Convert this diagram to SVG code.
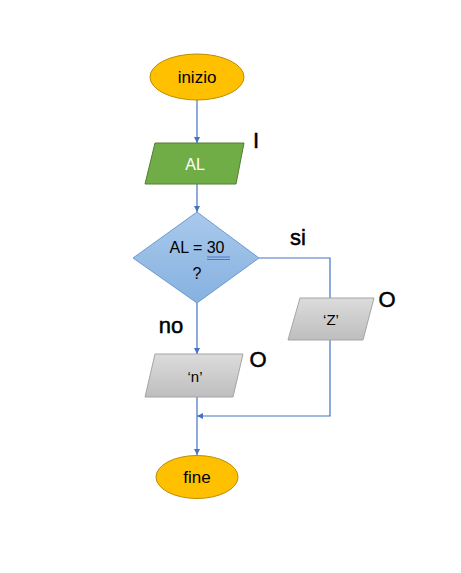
<svg xmlns="http://www.w3.org/2000/svg" width="461" height="573" viewBox="0 0 461 573">
<defs>
<style>
.t{font-family:"Liberation Sans",Arial,sans-serif;text-anchor:middle}
.lbl{font-family:"Liberation Sans",Arial,sans-serif;font-size:22px;fill:#000;text-anchor:middle;stroke:#000;stroke-width:0.5}
.c{fill:none;stroke:#4472C4;stroke-width:1.2}
.term{fill:#FFC000;stroke:#BC8C00;stroke-width:1}
.gray{fill:url(#gg);stroke:#A5A5A5;stroke-width:1}
</style>
<linearGradient id="gg" x1="0" y1="0" x2="0" y2="1">
<stop offset="0" stop-color="#DCDCDC"/>
<stop offset="1" stop-color="#BEBEBE"/>
</linearGradient>
<linearGradient id="bg" x1="0" y1="0" x2="0" y2="1">
<stop offset="0" stop-color="#A9C9EB"/>
<stop offset="1" stop-color="#86B1E0"/>
</linearGradient>
<marker id="ah" viewBox="0 0 10 10" refX="10" refY="5" markerWidth="6" markerHeight="6" orient="auto" markerUnits="userSpaceOnUse">
<path d="M0,0 L10,5 L0,10 z" fill="#4472C4"/>
</marker>
</defs>
<rect width="461" height="573" fill="#fff"/>
<g id="connectors">
<line class="c" x1="197" y1="100" x2="197" y2="143" marker-end="url(#ah)"/>
<line class="c" x1="197" y1="184" x2="197" y2="212" marker-end="url(#ah)"/>
<line class="c" x1="197" y1="303" x2="197" y2="354" marker-end="url(#ah)"/>
<polyline class="c" points="259,258 330,258 330,298"/>
<polyline class="c" points="330,340 330,416 197,416" marker-end="url(#ah)"/>
<line class="c" x1="197" y1="397" x2="197" y2="455" marker-end="url(#ah)"/>
</g>
<g id="inizio">
<ellipse class="term" cx="197" cy="77" rx="47" ry="23"/>
<text class="t" x="197" y="83" font-size="17">inizio</text>
</g>
<g id="input-AL">
<polygon points="155,143 244,143 236,184 145,184" fill="#70AD47" stroke="#507E32" stroke-width="1"/>
<text class="t" x="195" y="170" font-size="16" fill="#fff">AL</text>
<text class="lbl" x="256" y="148">I</text>
</g>
<g id="decision">
<polygon points="197,212 259,258 197,303 133,258" fill="url(#bg)" stroke="#6F9BD1" stroke-width="1"/>
<text class="t" x="197" y="253" font-size="16">AL = 30</text>
<line x1="207" y1="257" x2="230" y2="257" stroke="#4472C4" stroke-width="0.9"/>
<line x1="207" y1="259.5" x2="230" y2="259.5" stroke="#4472C4" stroke-width="0.9"/>
<text class="t" x="197" y="279" font-size="16">?</text>
</g>
<text class="lbl" x="298" y="245">si</text>
<text class="lbl" x="171" y="333">no</text>
<g id="output-Z">
<polygon class="gray" points="300,298 374,298 363,340 288,340"/>
<text class="t" x="331" y="325" font-size="15">‘Z’</text>
<text class="lbl" x="387" y="307">O</text>
</g>
<g id="output-n">
<polygon class="gray" points="155,354 243,354 233,397 145,397"/>
<text class="t" x="195" y="382" font-size="15">‘n’</text>
<text class="lbl" x="258" y="367">O</text>
</g>
<g id="fine">
<ellipse class="term" cx="197" cy="477" rx="41" ry="21.5"/>
<text class="t" x="197" y="483" font-size="17">fine</text>
</g>
</svg>
